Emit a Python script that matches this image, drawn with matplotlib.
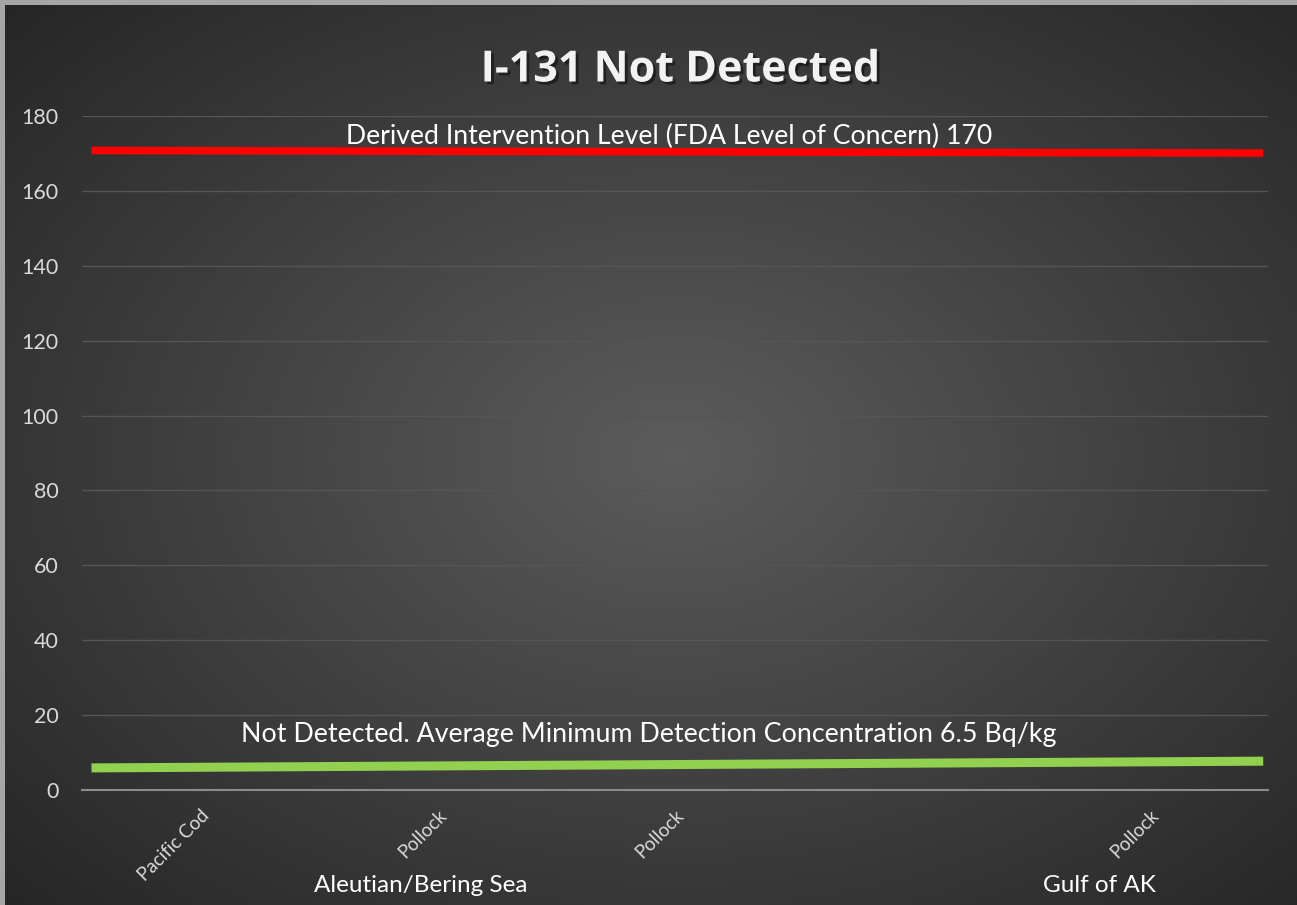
import numpy as np
import matplotlib
matplotlib.use("Agg")
import matplotlib.pyplot as plt
import matplotlib.patheffects as pe

# -------------------------------
# Data
# -------------------------------
categories = ["Pacific Cod", "Pollock", "Pollock", "", "Pollock"]
groups = ["Aleutian/Bering Sea", "Gulf of AK"]
group_pos = [0.93, 3.79]           # centre of each group label, in category units
line_x = [-0.46, 4.48]             # start / end of the reference lines
dil_level = [170.8, 170.1]         # Derived Intervention Level line
mdc_level = [5.9, 7.7]             # average minimum detection concentration line
yticks = list(range(0, 181, 20))

title = "I-131 Not Detected"
dil_text = "Derived Intervention Level (FDA Level of Concern) 170"
mdc_text = "Not Detected. Average Minimum Detection Concentration 6.5 Bq/kg"

plt.rcParams["font.family"] = ["Lato", "DejaVu Sans"]

W, H = 1297, 905
fig = plt.figure(figsize=(W / 100, H / 100), dpi=100, facecolor="#a6a6a6")

# -------------------------------
# Dark radial gradient background
# -------------------------------
bg = fig.add_axes([5 / W, 0, 1 - 5 / W, 1 - 5 / H], zorder=0)
gx, gy = np.meshgrid(np.linspace(0, 1, 400), np.linspace(0, 1, 300))
r = np.sqrt(((gx - 0.52) / 0.75) ** 2 + ((gy - 0.5) / 0.75) ** 2)
shade = np.clip(0.36 - 0.22 * r, 0.15, 0.36)
bg.imshow(np.dstack([shade] * 3), extent=[0, 1, 0, 1], aspect="auto", origin="lower")
bg.axis("off")

# -------------------------------
# Main axes
# -------------------------------
ax = fig.add_axes([82 / W, 1 - 790 / H, (1268 - 82) / W, (790 - 116) / H], zorder=1)
ax.set_facecolor("none")
ax.set_xlim(-0.5, len(categories) - 0.5)
ax.set_ylim(0, 180)

ax.set_yticks(yticks)
ax.yaxis.grid(True, color="#555555", linewidth=1.0)
ax.set_axisbelow(True)
for s in ["top", "right", "left"]:
    ax.spines[s].set_visible(False)
ax.spines["bottom"].set_color("#8c8c8c")
ax.spines["bottom"].set_linewidth(1.5)
ax.tick_params(axis="y", length=0, labelsize=15.5, labelcolor="#d9d9d9", pad=17)

ax.set_xticks(range(len(categories)))
ax.set_xticklabels(categories, rotation=45, ha="right", rotation_mode="anchor",
                   fontsize=13.5, color="#d9d9d9")
ax.tick_params(axis="x", length=0, pad=12)

# reference lines
ax.plot(line_x, dil_level, color="#ff0000", linewidth=5.5, solid_capstyle="butt",
        clip_on=False)
ax.plot(line_x, mdc_level, color="#92d050", linewidth=6.5, solid_capstyle="butt",
        clip_on=False)

ax.text(0.495, 174.5, dil_text, transform=ax.get_yaxis_transform(), ha="center",
        va="center", fontsize=19.2, color="white")
ax.text(0.478, 14.8, mdc_text, transform=ax.get_yaxis_transform(), ha="center",
        va="center", fontsize=19.3, color="white")

# group labels under the category axis
for g, p in zip(groups, group_pos):
    ax.text(p, -25.5, g, ha="center", va="center", fontsize=17.5, color="white",
            clip_on=False)

fig.text(680 / W, 1 - 70 / H, title, ha="center", va="center", fontsize=31,
         fontweight="bold", color="#f2f2f2", family=["Open Sans", "DejaVu Sans"],
         path_effects=[pe.SimplePatchShadow(offset=(2, -2), shadow_rgbFace="black",
                                            alpha=0.45), pe.Normal()])

fig.savefig("out.png", dpi=100, facecolor=fig.get_facecolor())
